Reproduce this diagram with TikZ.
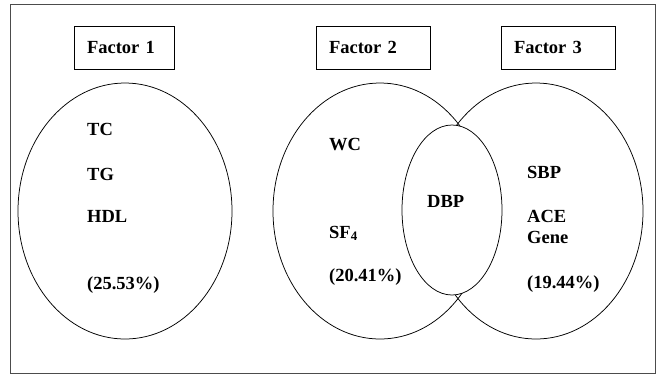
\documentclass[tikz,border=0pt]{standalone}
\usepackage{fontspec}
\setmainfont{Liberation Serif}
\usetikzlibrary{shapes.geometric}

\begin{document}
\begin{tikzpicture}[x=1pt,y=-1pt,
    lbl/.style={anchor=base west, inner sep=0pt, font=\fontsize{18.5}{20}\selectfont\bfseries},
    fbox/.style={draw, line width=0.9pt, minimum height=43pt, inner xsep=13pt, text width=#1, align=left, font=\fontsize{18.5}{20}\selectfont\bfseries},
    oval/.style={draw, ellipse, inner sep=0pt, line width=0.75pt}]
    \useasboundingbox (0,0) rectangle (659,376);
    \node[draw=black!70, line width=1pt, minimum width=645pt, minimum height=369pt, inner sep=0pt] (frame) at (332.5,188.5) {}; % outer border
    \node[fbox=74pt] (factor1) at (124,47.5) {Factor 1};
    \node[fbox=88pt] (factor2) at (373,47.5) {Factor 2};
    \node[fbox=88pt] (factor3) at (558,47.5) {Factor 3};
    \foreach \name/\cx in {oval1/125, oval2/380, oval3/536}{
        \node[oval, minimum width=214pt, minimum height=256pt] (\name) at (\cx,211) {};
    }
    \node[oval, fill=white, minimum width=100pt, minimum height=170pt] (ovaldbp) at (452,210) {}; % overlap
    \foreach \name/\x/\y/\txt in {tc/87/135/TC, tg/87/180/TG, hdl/87/222/HDL, pct1/87/289/{(25.53\%)},
        wc/329/150/WC, sf/329/238/{SF\textsubscript{4}}, pct2/329/281/{(20.41\%)},
        dbp/427/207/DBP,
        sbp/527/178/SBP, ace/527/222/ACE, gene/527/243/Gene, pct3/527/288/{(19.44\%)}}{
        \node[lbl] (\name) at (\x,\y) {\txt};
    }
\end{tikzpicture}
\end{document}
